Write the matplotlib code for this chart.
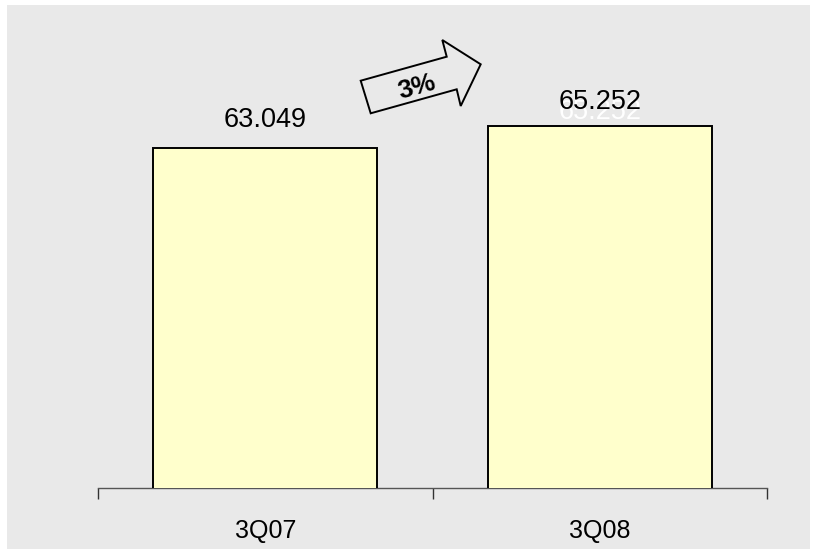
import matplotlib
matplotlib.use("Agg")
import matplotlib.pyplot as plt
from matplotlib.patches import Rectangle, Polygon

plt.rcParams['font.family'] = ['Liberation Sans', 'DejaVu Sans']

# data
quarters = ['3Q07', '3Q08']
values = [63.049, 65.252]
value_labels = ['63.049', '65.252']
growth_label = '3%'

W, H = 813, 552
bg = '#e9e9e9'

fig = plt.figure(figsize=(W / 100, H / 100), dpi=100, facecolor='white')

# grey panel with a thin white border round it
fig.patches.append(Rectangle((7 / W, 1 - 549 / H), (810 - 7) / W, (549 - 5) / H,
                             transform=fig.transFigure, facecolor=bg,
                             edgecolor='none', zorder=-5))

ax = fig.add_axes([98 / W, 1 - 488 / H, (767 - 98) / W, (488 - 40) / H])
ax.set_facecolor('none')
ax.set_zorder(1)

x = list(range(len(quarters)))
bars = ax.bar(x, values, width=0.67, color='#ffffcc', edgecolor='black',
              linewidth=1.4, zorder=3)

ax.set_xlim(-0.5, len(quarters) - 0.5)
ax.set_ylim(29, 73.9)

# value labels (the second one has a faint white shadow copy)
ax.annotate(value_labels[0], (x[0], values[0]), xytext=(0, 20),
            textcoords='offset points', ha='center', va='center',
            fontsize=19.5, color='black', zorder=5)
ax.annotate(value_labels[1], (x[1], values[1]), xytext=(0, 10),
            textcoords='offset points', ha='center', va='center',
            fontsize=19.5, color='white', zorder=2)
ax.annotate(value_labels[1], (x[1], values[1]), xytext=(0, 17.5),
            textcoords='offset points', ha='center', va='center',
            fontsize=19.5, color='black', zorder=5)

# axes styling: only a bottom line with category boundary ticks
for side in ['top', 'right', 'left']:
    ax.spines[side].set_visible(False)
ax.spines['bottom'].set_color('#555555')
ax.spines['bottom'].set_linewidth(1.0)
ax.set_yticks([])
ax.set_xticks([-0.5, 0.5, 1.5])
ax.set_xticklabels([])
ax.tick_params(axis='x', direction='out', length=8, width=1, color='#333333')
for xi, q in zip(x, quarters):
    ax.text(xi, -0.095, q, transform=ax.get_xaxis_transform(), ha='center',
            va='center', fontsize=18)

# growth arrow (annotation in figure pixels)
pts = [(360.7, 80.7), (446.7, 56.7), (442.3, 40), (480.7, 64.3),
       (460.7, 106), (456.7, 89.3), (370.7, 113.3)]
arrow = Polygon([(px / W, 1 - py / H) for px, py in pts], closed=True,
                transform=fig.transFigure, facecolor=bg, edgecolor='black',
                linewidth=1.4, zorder=4)
fig.patches.append(arrow)
fig.text(417 / W, 1 - 87 / H, growth_label, ha='center', va='center',
         fontsize=19, fontweight='bold', rotation=15.6, zorder=6)

fig.savefig('out.png', dpi=100, facecolor='white')
